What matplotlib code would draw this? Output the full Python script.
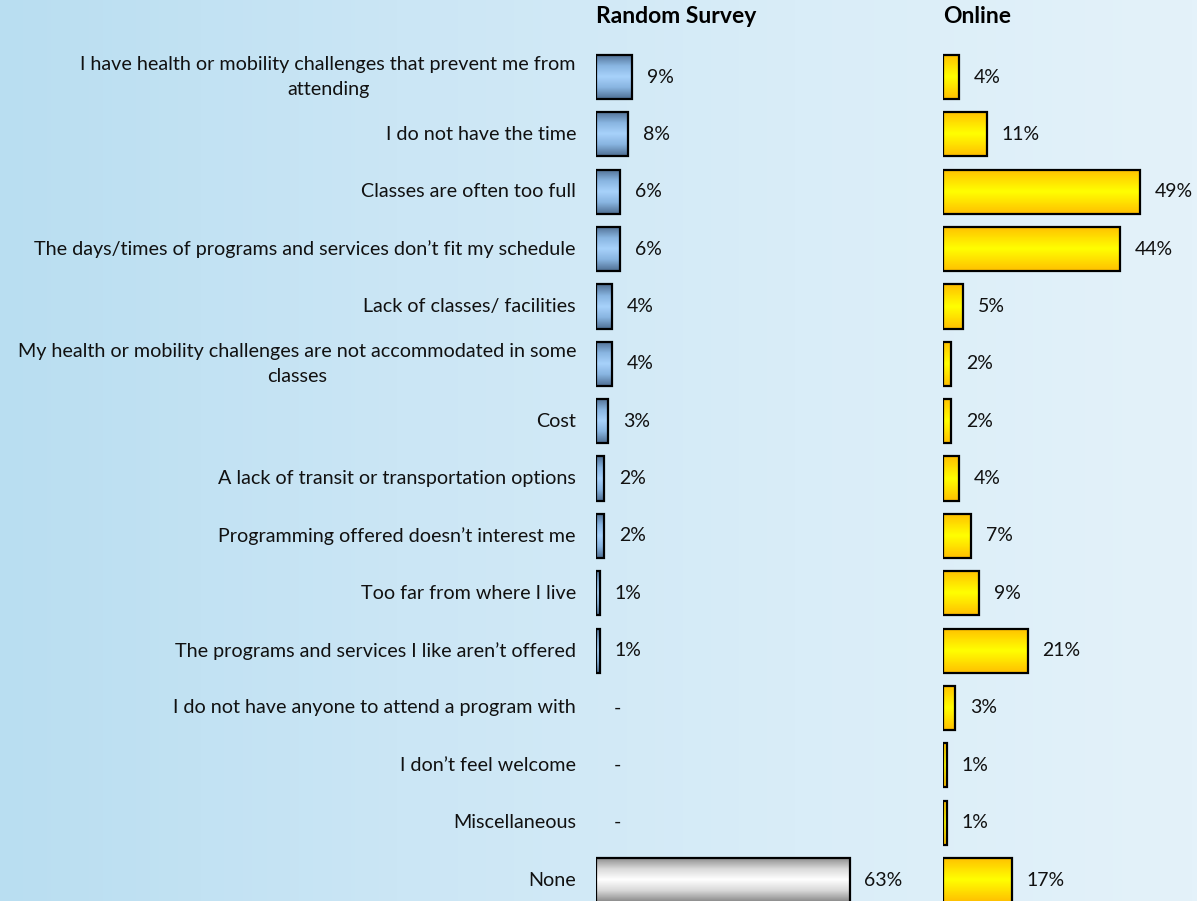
import matplotlib
matplotlib.use("Agg")
import matplotlib.pyplot as plt
import matplotlib.transforms as mtransforms
from matplotlib.colors import LinearSegmentedColormap
import numpy as np

plt.rcParams['font.family'] = ['Lato', 'DejaVu Sans']

categories = [
    "I have health or mobility challenges that prevent me from\nattending",
    "I do not have the time",
    "Classes are often too full",
    "The days/times of programs and services don\u2019t fit my schedule",
    "Lack of classes/ facilities",
    "My health or mobility challenges are not accommodated in some\nclasses",
    "Cost",
    "A lack of transit or transportation options",
    "Programming offered doesn\u2019t interest me",
    "Too far from where I live",
    "The programs and services I like aren\u2019t offered",
    "I do not have anyone to attend a program with",
    "I don\u2019t feel welcome",
    "Miscellaneous",
    "None",
]
random_survey = [9, 8, 6, 6, 4, 4, 3, 2, 2, 1, 1, 0, 0, 0, 63]
online = [4, 11, 49, 44, 5, 2, 2, 4, 7, 9, 21, 3, 1, 1, 17]

W, H = 1197, 901
fig = plt.figure(figsize=(W / 100, H / 100), dpi=100)

# background: soft horizontal blue wash
bg = fig.add_axes([0, 0, 1, 1], zorder=-10)
bg_cmap = LinearSegmentedColormap.from_list(
    "bg", ["#b9def1", "#cbe6f5", "#d9edf8", "#e4f2fa"])
bg.imshow(np.linspace(0, 1, 256)[None, :], aspect="auto", cmap=bg_cmap,
          extent=[0, 1, 0, 1])
bg.set_axis_off()

blue = LinearSegmentedColormap.from_list(
    "blue", ["#4f6f93", "#88b4e0", "#a8d2fb", "#88b4e0", "#4f6f93"])
gold = LinearSegmentedColormap.from_list(
    "gold", ["#ffbf00", "#ffe000", "#ffff00", "#ffe000", "#ffbf00"])
grey = LinearSegmentedColormap.from_list(
    "grey", ["#8a8a8a", "#d8d8d8", "#ffffff", "#d8d8d8", "#8a8a8a"])

px = 4.03            # pixels per percentage point
row0, step = 77, 57.36
y_top = -row0 / step
y_bot = (H - row0) / step
bar_h = 0.77

axL_x0, axL_x1 = 596, 930
axR_x0, axR_x1 = 943, W
axL = fig.add_axes([axL_x0 / W, 0, (axL_x1 - axL_x0) / W, 1])
axR = fig.add_axes([axR_x0 / W, 0, (axR_x1 - axR_x0) / W, 1])
axL.set_xlim(0, (axL_x1 - axL_x0) / px)
axR.set_xlim(0, (axR_x1 - axR_x0) / px)

grad = np.linspace(0, 1, 64)[:, None]
y = np.arange(len(categories))


def draw_bars(ax, values, cmaps):
    ax.set_ylim(y_bot, y_top)
    ax.set_axis_off()
    bars = ax.barh(y, values, height=bar_h, facecolor="none",
                   edgecolor="black", linewidth=1.6, zorder=3)
    for bar, v, cm in zip(bars, values, cmaps):
        if v == 0:
            bar.set_visible(False)
            continue
        x0, y0 = bar.get_x(), bar.get_y()
        im = ax.imshow(grad, aspect="auto", cmap=cm, zorder=2,
                       extent=[x0, x0 + bar.get_width(), y0 + bar.get_height(), y0])
        im.set_clip_path(bar)
        ax.annotate(f"{v}%", xy=(v, bar.get_y() + bar.get_height() / 2),
                    xytext=(10.5, 0), textcoords="offset points",
                    va="center", ha="left", fontsize=14, color="#111111")
    for i, v in enumerate(values):
        if v == 0:
            ax.annotate("-", xy=(0, i), xytext=(13, 0), textcoords="offset points",
                        va="center", ha="left", fontsize=14, color="#111111")
    ax.set_ylim(y_bot, y_top)


draw_bars(axL, random_survey, [grey if c == "None" else blue for c in categories])
draw_bars(axR, online, [gold] * len(categories))

axL.text(0, -1.06, "Random Survey", fontsize=16.5, fontweight="bold",
         ha="left", va="center")
axR.text(0, -1.06, "Online", fontsize=16.5, fontweight="bold",
         ha="left", va="center")

trans = mtransforms.blended_transform_factory(fig.transFigure, axL.transData)
for i, c in enumerate(categories):
    fig.text(576 / W, i, c, transform=trans, ha="right", va="center",
             multialignment="center", fontsize=14.2, color="#111111",
             linespacing=1.55)

fig.savefig("out.png", dpi=100)
